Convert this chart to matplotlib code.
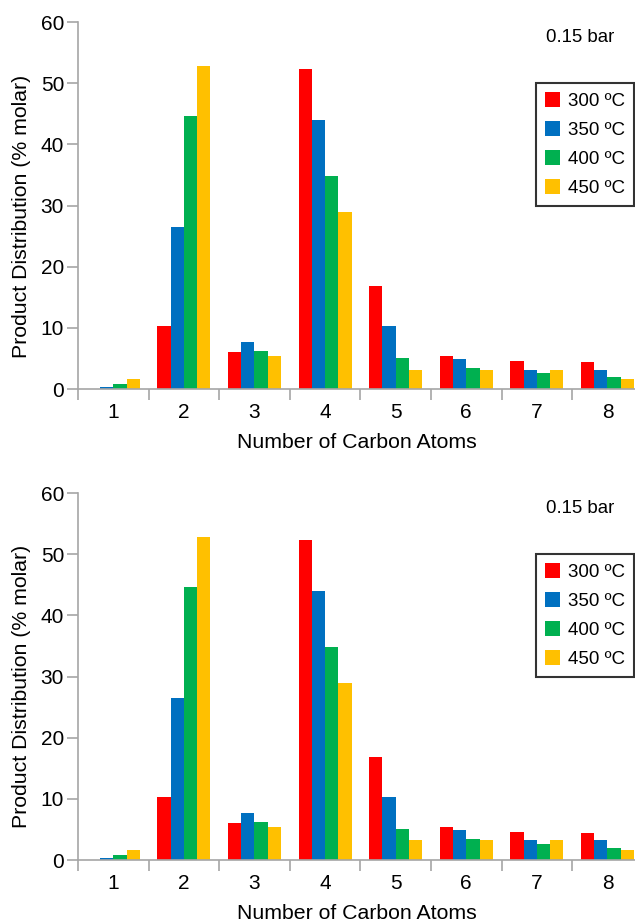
import matplotlib.pyplot as plt
import numpy as np

plt.rcParams['font.family'] = ['Liberation Sans', 'DejaVu Sans']

carbons = [1, 2, 3, 4, 5, 6, 7, 8]
temps = ['300 ºC', '350 ºC', '400 ºC', '450 ºC']
colors = ['#FF0000', '#0070C0', '#00B050', '#FFC000']

t300 = [0.0, 10.3, 6.05, 52.3, 16.9, 5.45, 4.6, 4.35]
t350 = [0.27, 26.5, 7.7, 44.0, 10.3, 4.85, 3.2, 3.2]
t400 = [0.8, 44.6, 6.3, 34.9, 5.1, 3.5, 2.6, 2.0]
t450 = [1.6, 52.9, 5.4, 28.9, 3.2, 3.2, 3.2, 1.7]
series = [t300, t350, t400, t450]

fig = plt.figure(figsize=(6.35, 9.22), dpi=100)
axes = [fig.add_axes([0.1228, 0.578, 0.8772, 0.398]),
        fig.add_axes([0.1228, 0.0672, 0.8772, 0.398])]

x = np.arange(len(carbons)) + 1
w = 0.1875
grey = '#a6a6a6'

for ax in axes:
    for i, vals in enumerate(series):
        ax.bar(x + (i - 1.5) * w, vals, width=w, color=colors[i], label=temps[i])
    ax.set_xlim(0.5, 8.39)
    ax.set_ylim(0, 60)
    ax.set_yticks(range(0, 61, 10))
    ax.set_xticks(np.arange(0.5, 8.5, 1))
    ax.set_xticklabels([])
    ax.set_xticks(x, minor=True)
    ax.set_xticklabels([str(c) for c in carbons], minor=True)
    ax.tick_params(axis='x', which='minor', length=0, pad=10, labelsize=15)
    ax.tick_params(axis='x', which='major', length=8, width=1.2, color=grey)
    ax.tick_params(axis='y', length=8, width=1.2, color=grey, labelsize=15, pad=2)
    for s in ['top', 'right']:
        ax.spines[s].set_visible(False)
    for s in ['left', 'bottom']:
        ax.spines[s].set_color(grey)
        ax.spines[s].set_linewidth(1.2)
    ax.set_ylabel('Product Distribution (% molar)', fontsize=15.3)
    ax.yaxis.set_label_coords(-0.085, 0.472)
    ax.set_xlabel('Number of Carbon Atoms', fontsize=15.3, labelpad=8)
    ax.text(0.902, 0.957, '0.15 bar', transform=ax.transAxes, ha='center',
            va='center', fontsize=13.4)
    leg = ax.legend(loc='upper left', bbox_to_anchor=(0.822, 0.834),
                    borderaxespad=0, fontsize=13.5, frameon=True, fancybox=False,
                    handlelength=0.8, handleheight=0.8, handletextpad=0.4,
                    labelspacing=0.6, borderpad=0.5)
    leg.get_frame().set_edgecolor('black')
    leg.get_frame().set_linewidth(1.5)

fig.savefig('out.png', dpi=100)
